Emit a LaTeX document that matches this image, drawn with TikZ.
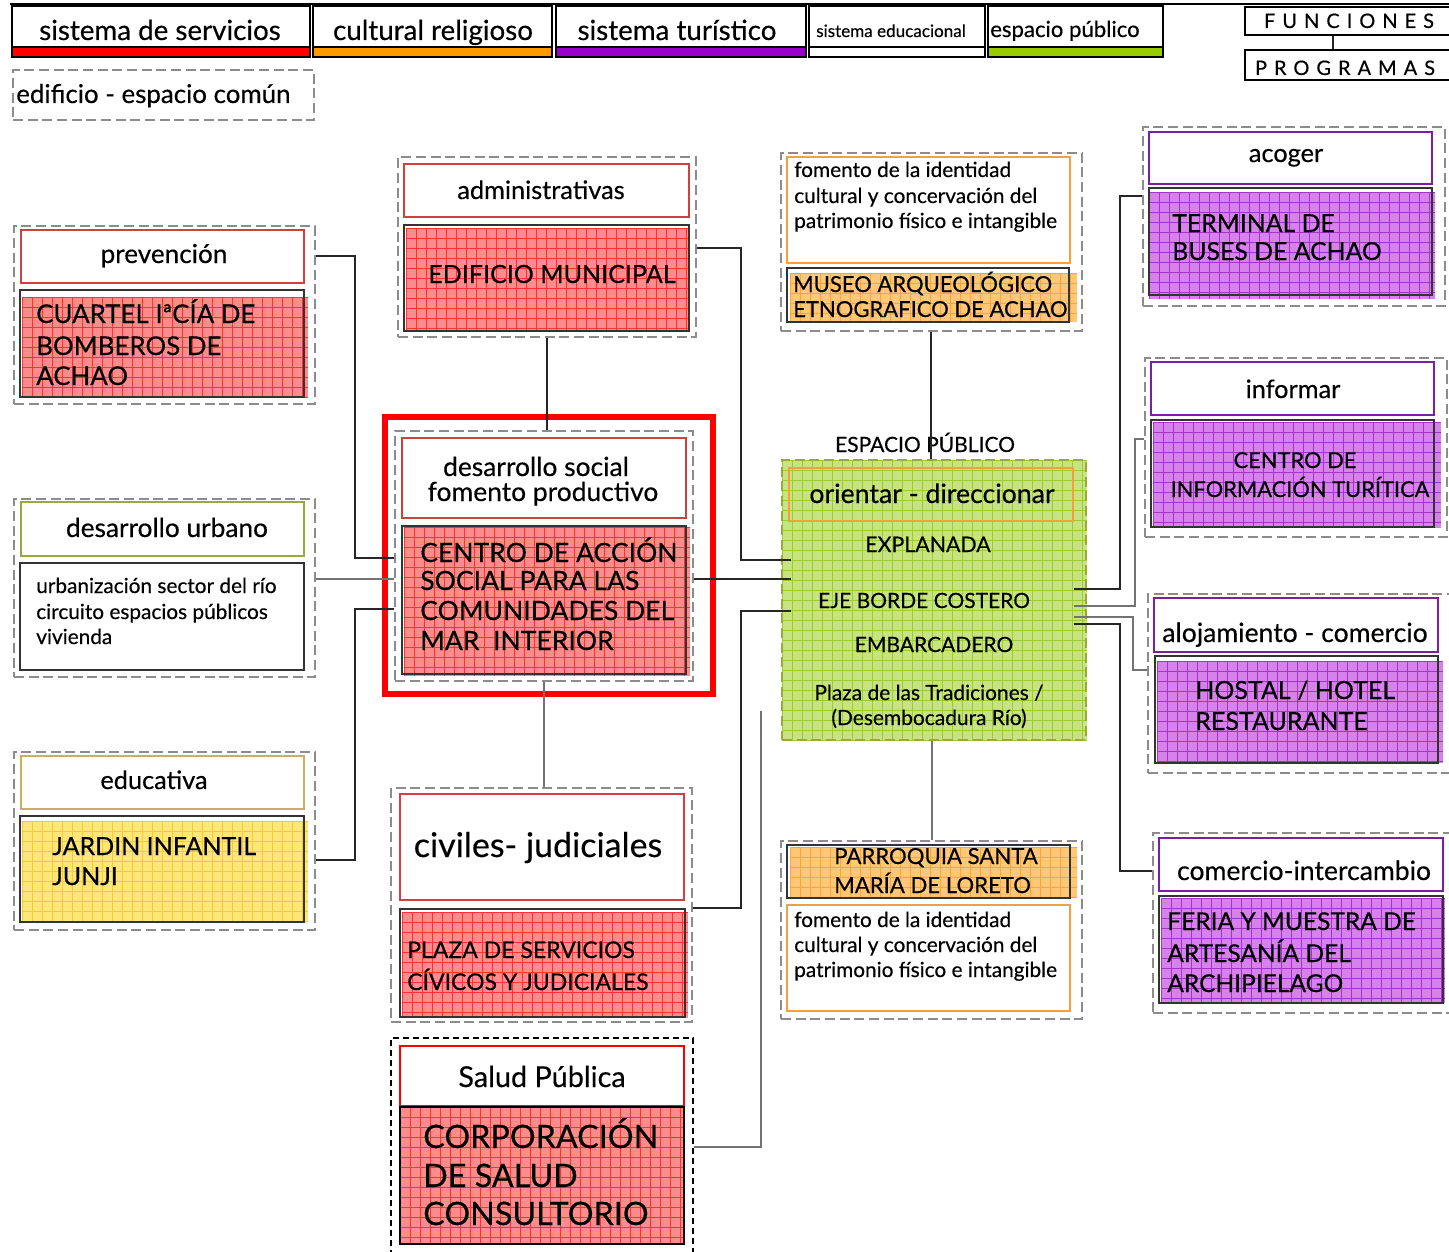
\documentclass[tikz,border=0pt]{standalone}
\usepackage{fontspec}
\setmainfont{Lato}[FakeBold=0.35]
\newfontfamily\spacedfont[LetterSpace=35,FakeBold=0.35]{Lato}
\usetikzlibrary{fit}
\definecolor{redF}{RGB}{255,140,140}
\definecolor{redL}{RGB}{255,50,50}
\definecolor{purF}{RGB}{215,130,235}
\definecolor{purL}{RGB}{165,50,205}
\definecolor{grnF}{RGB}{200,228,130}
\definecolor{grnL}{RGB}{155,205,50}
\definecolor{orgF}{RGB}{255,200,120}
\definecolor{orgL}{RGB}{255,165,50}
\definecolor{yelF}{RGB}{255,230,120}
\definecolor{yelL}{RGB}{240,205,50}
\definecolor{redB}{RGB}{208,64,64}
\definecolor{oliveB}{RGB}{154,170,58}
\definecolor{khakiB}{RGB}{200,176,96}
\definecolor{purB}{RGB}{122,31,160}
\definecolor{orgB}{RGB}{245,160,64}
\definecolor{barRed}{RGB}{255,0,0}
\definecolor{barOrg}{RGB}{255,153,0}
\definecolor{barPur}{RGB}{153,0,204}
\definecolor{barGrn}{RGB}{153,204,0}
\newcommand\fpx[1]{\fontsize{#1}{#1}\selectfont}
\newcommand\gfill[6]{%
  \fill[#5] (#1,#2) rectangle (#3,#4);
  \begin{scope}
    \clip (#1,#2) rectangle (#3,#4);
    \foreach \gi in {0,10,...,400}{
      \draw[#6,line width=0.5pt] ({#1+\gi},#2) -- ({#1+\gi},#4);
      \draw[#6,line width=0.5pt] (#1,{#2+\gi}) -- (#3,{#2+\gi});
    }
  \end{scope}}
\tikzset{
  outerbox/.style={draw=black!45, line width=1.1pt, dash pattern=on 7.5pt off 3.5pt, inner sep=0pt},
  hbox/.style={draw=#1, line width=0.9pt, fill=white, inner sep=0pt},
  cbox/.style={draw=black!80, line width=0.9pt, inner sep=0pt},
  lgdbox/.style={draw=black, line width=1pt, inner sep=0pt},
  lbl/.style={inner sep=0pt, anchor=base},
  lblw/.style={inner sep=0pt, anchor=base west, align=left},
  conn/.style={draw=black!85, line width=0.85pt},
  connG/.style={draw=black!55, line width=1pt},
}
\begin{document}
\begin{tikzpicture}[x=0.75pt,y=-0.75pt]
\useasboundingbox (0,0) rectangle (1449,1252);
\fill[white] (0,0) rectangle (1449,1252);

% ---------- legend ----------
\draw[line width=2.2pt] (10,4) -- (1449,4);
\node[lgdbox, fit={(12,6)(310,47)}] (L1) {};
\node[lgdbox, fill=barRed, fit={(12,47)(310,57)}] (L1b) {};
\node[lgdbox, fit={(313,6)(552,47)}] (L2) {};
\node[lgdbox, fill=barOrg, fit={(313,47)(552,57)}] (L2b) {};
\node[lgdbox, fit={(556,6)(806,47)}] (L3) {};
\node[lgdbox, fill=barPur, fit={(556,47)(806,57)}] (L3b) {};
\node[lgdbox, fit={(809,6)(985,47)}] (L4) {};
\node[lgdbox, fill=white, fit={(809,47)(985,57)}] (L4b) {};
\node[lgdbox, fit={(988,6)(1163,47)}] (L5) {};
\node[lgdbox, fill=barGrn, fit={(988,47)(1163,57)}] (L5b) {};
\node[lbl, font=\fpx{20.8pt}] (L1t) at (160,40) {sistema de servicios};
\node[lbl, font=\fpx{20.8pt}] (L2t) at (433,40) {cultural religioso};
\node[lbl, font=\fpx{20.8pt}] (L3t) at (677,40) {sistema turístico};
\node[lbl, font=\fpx{12.8pt}] (L4t) at (891,37) {sistema educacional};
\node[lblw, font=\fpx{16.6pt}] (L5t) at (990,37) {espacio público};
\node[outerbox, fit={(13,70)(314,120)}] (ed) {};
\node[lblw, font=\fpx{19.4pt}] (edt) at (16,103) {edificio - espacio común};
\node[lgdbox, line width=0.9pt, fit={(1245,7)(1455,35)}] (fun) {};
\node[lgdbox, line width=0.9pt, fit={(1245,50)(1455,80)}] (prog) {};
\node[lbl, font=\spacedfont\fpx{15pt}] (funt) at (1349,28) {FUNCIONES};
\node[lbl, font=\spacedfont\fpx{15pt}] (progt) at (1345,75) {PROGRAMAS};
\draw[conn] (fun.south -| 1333,0) -- (prog.north -| 1333,0);

% ---------- G1 prevencion ----------
\node[outerbox, fit={(14,226)(315,404)}] (g1) {};
\node[hbox=redB, fit={(21,230)(304,283)}] (g1h) {};
\gfill{22}{297}{308}{397}{redF}{redL}
\node[cbox, fit={(20,290)(304,397)}] (g1c) {};
\node[lbl, font=\fpx{19.6pt}] (g1t) at (164,263) {prevención};
\node[lblw, font=\fpx{19.4pt}] (g1a) at (36,323) {CUARTEL IªCÍA DE};
\node[lblw, font=\fpx{19.4pt}] (g1b) at (36,355) {BOMBEROS DE};
\node[lblw, font=\fpx{19.4pt}] (g1d) at (36,385) {ACHAO};

% ---------- G2 desarrollo urbano ----------
\node[outerbox, fit={(14,499)(315,677)}] (g2) {};
\node[hbox=oliveB, fit={(21,502)(304,556)}] (g2h) {};
\node[cbox, fill=white, fit={(20,563)(304,670)}] (g2c) {};
\node[lbl, font=\fpx{19.7pt}] (g2t) at (167,537) {desarrollo urbano};
\node[lblw, font=\fpx{15.6pt}] (g2a) at (36,593) {urbanización sector del río};
\node[lblw, font=\fpx{15.6pt}] (g2b) at (36,619) {circuito espacios públicos};
\node[lblw, font=\fpx{15.6pt}] (g2d) at (36,644) {vivienda};

% ---------- G3 educativa ----------
\node[outerbox, fit={(14,752)(315,930)}] (g3) {};
\node[hbox=khakiB, fit={(21,756)(304,809)}] (g3h) {};
\gfill{22}{821}{308}{922}{yelF}{yelL}
\node[cbox, fit={(20,816)(304,922)}] (g3c) {};
\node[lbl, font=\fpx{19pt}] (g3t) at (154,789) {educativa};
\node[lblw, font=\fpx{18.75pt}] (g3a) at (52,855) {JARDIN INFANTIL};
\node[lblw, font=\fpx{18.75pt}] (g3b) at (52,885) {JUNJI};

% ---------- G4 administrativas ----------
\node[outerbox, fit={(398,157)(696,337)}] (g4) {};
\node[hbox=redB, fit={(404,164)(689,217)}] (g4h) {};
\gfill{406}{228}{690}{332}{redF}{redL}
\node[cbox, fit={(404,225)(689,331)}] (g4c) {};
\node[lbl, font=\fpx{19pt}] (g4t) at (541,199) {administrativas};
\node[lblw, font=\fpx{18.8pt}] (g4a) at (428,283) {EDIFICIO MUNICIPAL};

% ---------- G5 desarrollo social ----------
\draw[barRed, line width=4.5pt] (385,417) rectangle (713,694);
\node[outerbox, fit={(395,431)(693,681)}] (g5) {};
\node[hbox=redB, fit={(402,438)(686,518)}] (g5h) {};
\gfill{404}{527}{690}{676}{redF}{redL}
\node[cbox, fit={(402,526)(686,674)}] (g5c) {};
\node[lbl, font=\fpx{19.8pt}] (g5t1) at (536,476) {desarrollo social};
\node[lbl, font=\fpx{19.8pt}] (g5t2) at (543,501) {fomento productivo};
\node[lblw, font=\fpx{19.9pt}] (g5a) at (420,562) {CENTRO DE ACCIÓN};
\node[lblw, font=\fpx{19.9pt}] (g5b) at (420,590) {SOCIAL PARA LAS};
\node[lblw, font=\fpx{19.9pt}] (g5d) at (420,620) {COMUNIDADES DEL};
\node[lblw, font=\fpx{19.9pt}] (g5e) at (420,650) {MAR\ \ INTERIOR};

% ---------- G6 civiles ----------
\node[outerbox, fit={(391,788)(692,1022)}] (g6) {};
\node[hbox=redB, fit={(400,794)(684,900)}] (g6h) {};
\gfill{402}{912}{688}{1018}{redF}{redL}
\node[cbox, fit={(400,909)(685,1017)}] (g6c) {};
\node[lbl, font=\fpx{25.5pt}] (g6t) at (538,857) {civiles- judiciales};
\node[lblw, font=\fpx{17.25pt}] (g6a) at (407,958) {PLAZA DE SERVICIOS};
\node[lblw, font=\fpx{17.25pt}] (g6b) at (407,990) {CÍVICOS Y JUDICIALES};

% ---------- G7 salud ----------
\node[draw=black, line width=1.1pt, dash pattern=on 4.5pt off 3pt, inner sep=0pt, fit={(391,1038)(693,1262)}] (g7) {};
\node[hbox=barRed, line width=1.5pt, fit={(400,1046)(684,1106)}] (g7h) {};
\gfill{400}{1107}{684}{1244}{redF}{redL}
\node[cbox, draw=black, line width=1.5pt, fit={(400,1107)(684,1244)}] (g7c) {};
\node[lbl, font=\fpx{21.6pt}] (g7t) at (542,1087) {Salud Pública};
\node[lblw, font=\fpx{24.2pt}] (g7a) at (423,1148) {CORPORACIÓN};
\node[lblw, font=\fpx{24.2pt}] (g7b) at (423,1187) {DE SALUD};
\node[lblw, font=\fpx{24.2pt}] (g7d) at (423,1225) {CONSULTORIO};

% ---------- G8 museo ----------
\node[outerbox, fit={(781,153)(1082,331)}] (g8) {};
\node[hbox=orgB, fit={(787,157)(1070,263)}] (g8h) {};
\gfill{790}{273}{1077}{322}{orgF}{orgL}
\node[cbox, fit={(787,268)(1069,322)}] (g8c) {};
\node[lblw, font=\fpx{15.6pt}] (g8a) at (794,177) {fomento de la identidad};
\node[lblw, font=\fpx{15.6pt}] (g8b) at (794,203) {cultural y concervación del};
\node[lblw, font=\fpx{15.6pt}] (g8d) at (794,228) {patrimonio físico e intangible};
\node[lblw, font=\fpx{16.5pt}] (g8e) at (793,292) {MUSEO ARQUEOLÓGICO};
\node[lblw, font=\fpx{16.5pt}] (g8f) at (793,317) {ETNOGRAFICO DE ACHAO};

% ---------- G9 espacio publico ----------
\node[lbl, font=\fpx{15.75pt}] (esp) at (925,452) {ESPACIO PÚBLICO};
\gfill{782}{460}{1087}{740}{grnF}{grnL}
\node[outerbox, draw=oliveB, fit={(782,460)(1086,740)}] (g9) {};
\node[draw=orgB, line width=0.9pt, inner sep=0pt, fit={(789,468)(1073,521)}] (g9h) {};
\coordinate (g9L) at (791,600);
\coordinate (g9R) at (1074,600);
\node[lbl, font=\fpx{20pt}] (g9t) at (932,503) {orientar - direccionar};
\node[lbl, font=\fpx{16pt}] (g9a) at (928,552) {EXPLANADA};
\node[lbl, font=\fpx{15.75pt}] (g9b) at (924,608) {EJE BORDE COSTERO};
\node[lbl, font=\fpx{15.75pt}] (g9d) at (934,652) {EMBARCADERO};
\node[lbl, font=\fpx{15.7pt}] (g9e) at (929,700) {Plaza de las Tradiciones /};
\node[lbl, font=\fpx{15.7pt}] (g9f) at (929,725) {(Desembocadura Río)};

% ---------- G10 parroquia ----------
\node[outerbox, fit={(781,841)(1082,1019)}] (g10) {};
\gfill{790}{847}{1077}{898}{orgF}{orgL}
\node[cbox, fit={(787,845)(1070,898)}] (g10c) {};
\node[hbox=orgB, fit={(787,905)(1070,1011)}] (g10h) {};
\node[lblw, font=\fpx{16.6pt}] (g10a) at (834,864) {PARROQUIA SANTA};
\node[lblw, font=\fpx{16.6pt}] (g10b) at (834,893) {MARÍA DE LORETO};
\node[lblw, font=\fpx{15.6pt}] (g10d) at (794,927) {fomento de la identidad};
\node[lblw, font=\fpx{15.6pt}] (g10e) at (794,952) {cultural y concervación del};
\node[lblw, font=\fpx{15.6pt}] (g10f) at (794,977) {patrimonio físico e intangible};

% ---------- G11 acoger ----------
\node[outerbox, fit={(1143,127)(1445,306)}] (g11) {};
\node[hbox=purB, fit={(1149,132)(1432,184)}] (g11h) {};
\gfill{1149}{192}{1435}{299}{purF}{purL}
\node[cbox, fit={(1149,188)(1432,295)}] (g11c) {};
\node[lbl, font=\fpx{19pt}] (g11t) at (1286,162) {acoger};
\node[lblw, font=\fpx{18.6pt}] (g11a) at (1172,232) {TERMINAL DE};
\node[lblw, font=\fpx{18.6pt}] (g11b) at (1172,260) {BUSES DE ACHAO};

% ---------- G12 informar ----------
\node[outerbox, fit={(1145,358)(1447,537)}] (g12) {};
\node[hbox=purB, fit={(1151,362)(1434,415)}] (g12h) {};
\gfill{1153}{422}{1441}{528}{purF}{purL}
\node[cbox, fit={(1151,420)(1434,527)}] (g12c) {};
\node[lbl, font=\fpx{19pt}] (g12t) at (1293,398) {informar};
\node[lbl, font=\fpx{16.4pt}] (g12a) at (1295,468) {CENTRO DE};
\node[lbl, font=\fpx{16.4pt}] (g12b) at (1300,497) {INFORMACIÓN TURÍTICA};

% ---------- G13 alojamiento ----------
\node[outerbox, fit={(1148,594)(1455,773)}] (g13) {};
\node[hbox=purB, fit={(1154,598)(1438,652)}] (g13h) {};
\gfill{1157}{661}{1443}{763}{purF}{purL}
\node[cbox, fit={(1155,656)(1438,763)}] (g13c) {};
\node[lbl, font=\fpx{19.9pt}] (g13t) at (1295,642) {alojamiento - comercio};
\node[lblw, font=\fpx{18.75pt}] (g13a) at (1195,699) {HOSTAL / HOTEL};
\node[lblw, font=\fpx{18.75pt}] (g13b) at (1195,730) {RESTAURANTE};

% ---------- G14 comercio ----------
\node[outerbox, fit={(1153,833)(1455,1013)}] (g14) {};
\node[hbox=purB, fit={(1159,838)(1443,891)}] (g14h) {};
\gfill{1161}{898}{1445}{1003}{purF}{purL}
\node[cbox, fit={(1159,896)(1443,1003)}] (g14c) {};
\node[lbl, font=\fpx{19.9pt}] (g14t) at (1304,880) {comercio-intercambio};
\node[lblw, font=\fpx{18.4pt}] (g14a) at (1167,930) {FERIA Y MUESTRA DE};
\node[lblw, font=\fpx{18.4pt}] (g14b) at (1167,962) {ARTESANÍA DEL};
\node[lblw, font=\fpx{18.4pt}] (g14d) at (1167,992) {ARCHIPIELAGO};

% ---------- connectors ----------
\draw[conn] (g1.east |- 0,256) -| (355,558) -- (g5.west |- 0,558);
\draw[connG] (g2.east |- 0,579) -- (g5.west |- 0,579);
\draw[conn] (g3.east |- 0,860) -| (355,609) -- (g5.west |- 0,609);
\draw[conn] (g4.south -| 547,0) -- (g5.north -| 547,0);
\draw[connG] (g5.south -| 544,0) -- (g6.north -| 544,0);
\draw[conn] (g4.east |- 0,248) -| (741,560) -- (g9L |- 0,560);
\draw[conn] (g5.east |- 0,579) -- (g9L |- 0,579);
\draw[conn] (g6.east |- 0,908) -| (741,611) -- (g9L |- 0,611);
\coordinate (c9end) at (761,711);
\draw[connG] (g7.east |- 0,1147) -| (c9end);
\draw[conn] (g8.south -| 931,0) -- (g9.north -| 931,0);
\draw[connG] (g9.south -| 932,0) -- (g10.north -| 932,0);
\draw[conn] (g9R |- 0,589) -| (1120,196) -- (g11.west |- 0,196);
\draw[connG] (g9R |- 0,606) -| (1135,439) -- (g12.west |- 0,439);
\draw[connG] (g9R |- 0,617) -| (1133,670) -- (g13.west |- 0,670);
\draw[conn] (g9R |- 0,624) -| (1120,871) -- (g14.west |- 0,871);
\end{tikzpicture}
\end{document}
